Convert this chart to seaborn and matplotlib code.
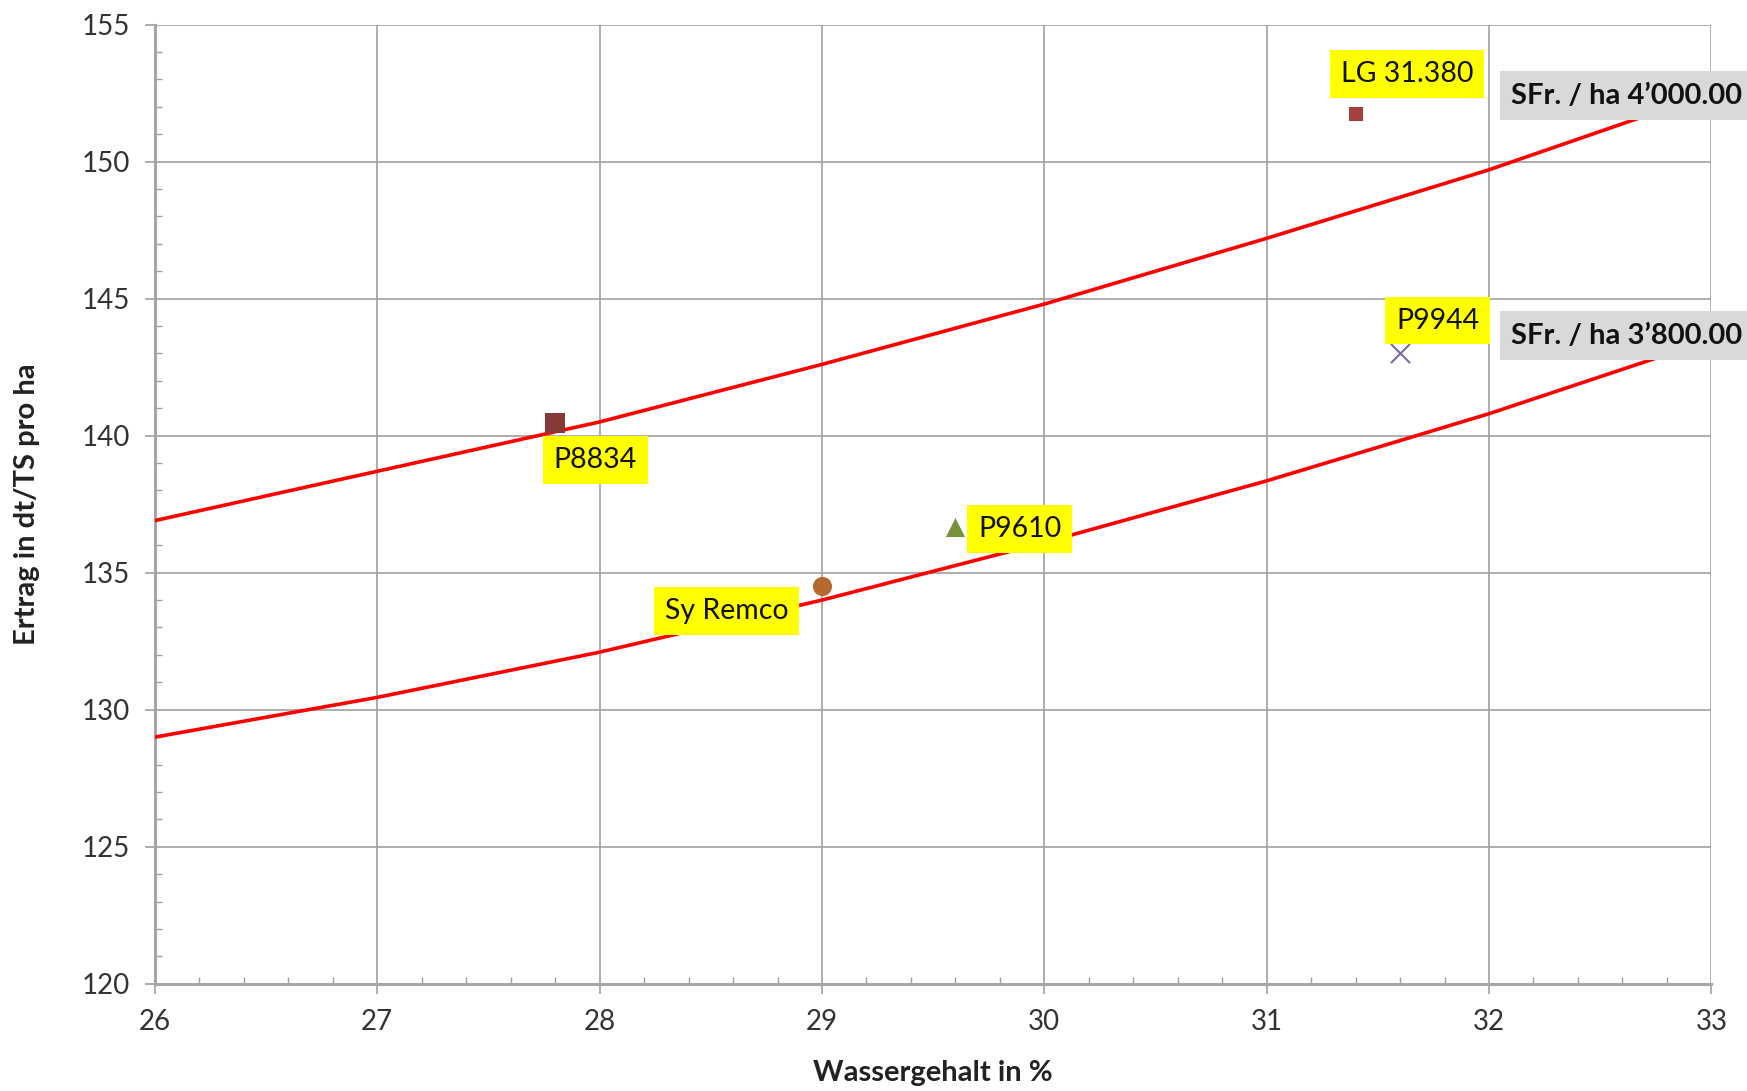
import numpy as np
import pandas as pd
import matplotlib
matplotlib.use("Agg")
import matplotlib.pyplot as plt
from matplotlib.ticker import MultipleLocator
import seaborn as sns

# ── Data ───────────────────────────────────────────────────
curve_x = [26, 27, 28, 29, 30, 31, 32, 33]
curve_4000 = [136.9, 138.7, 140.5, 142.6, 144.8, 147.2, 149.7, 152.5]
curve_3800 = [129.0, 130.45, 132.1, 134.0, 136.1, 138.35, 140.8, 143.5]
curve_names = ["SFr. / ha 4\u2019000.00", "SFr. / ha 3\u2019800.00"]

sorten = ["LG 31.380", "P8834", "P9610", "Sy Remco", "P9944"]
wasser = [31.4, 27.8, 29.6, 29.0, 31.6]
ertrag = [151.75, 140.45, 136.65, 134.5, 143.0]

# label anchors (data coords) for the yellow boxes
label_x = [31.63, 27.98, 29.89, 28.57, 31.77]
label_y = [153.2, 139.1, 136.6, 133.6, 144.2]

# gray curve labels
curve_label_x = [32.10, 32.10]
curve_label_y = [152.4, 143.65]

# ── Styles ─────────────────────────────────────────────────
markers = {"LG 31.380": "s", "P8834": "s", "P9610": "^", "Sy Remco": "o", "P9944": "x"}
colors = {"LG 31.380": "#A5403F", "P8834": "#863A38", "P9610": "#76923C",
          "Sy Remco": "#B5692E", "P9944": "#7B6A9E"}
sizes = {"LG 31.380": 90, "P8834": 210, "P9610": 190, "Sy Remco": 190, "P9944": 190}

sns.set_style("white")
plt.rcParams["font.family"] = ["Lato", "DejaVu Sans"]

fig = plt.figure(figsize=(17.47, 10.91), dpi=100)
ax = fig.add_axes([0.0887, 0.0983, 0.8909, 0.8792])

curves = pd.DataFrame({"x": curve_x, "y4000": curve_4000, "y3800": curve_3800})
sns.lineplot(data=curves, x="x", y="y4000", color="#FF0000", linewidth=2.6, ax=ax, zorder=3)
sns.lineplot(data=curves, x="x", y="y3800", color="#FF0000", linewidth=2.6, ax=ax, zorder=3)

pts = pd.DataFrame({"sorte": sorten, "x": wasser, "y": ertrag})
for s in sorten:
    sub = pts[pts["sorte"] == s]
    lw = 1.5 if markers[s] == "x" else 0
    sns.scatterplot(data=sub, x="x", y="y", marker=markers[s], color=colors[s],
                    s=sizes[s], linewidth=lw, ax=ax, zorder=4, legend=False)

for name, lx, ly in zip(sorten, label_x, label_y):
    ax.text(lx, ly, name, ha="center", va="center", fontsize=20.5, color="#111111",
            zorder=5, bbox=dict(boxstyle="square,pad=0.38", facecolor="#FFFF00", edgecolor="none"))

for name, lx, ly in zip(curve_names, curve_label_x, curve_label_y):
    ax.text(lx, ly, name, ha="left", va="center", fontsize=21, fontweight="bold",
            color="#111111", zorder=6, clip_on=False,
            bbox=dict(boxstyle="square,pad=0.4", facecolor="#D9D9D9", edgecolor="none"))

# ── Axes ───────────────────────────────────────────────────
ax.set_xlim(26, 33)
ax.set_ylim(120, 155)
ax.xaxis.set_major_locator(MultipleLocator(1))
ax.xaxis.set_minor_locator(MultipleLocator(0.2))
ax.yaxis.set_major_locator(MultipleLocator(5))
ax.yaxis.set_minor_locator(MultipleLocator(1))

ax.grid(which="major", color="#A0A0A0", linewidth=1.2)
ax.set_axisbelow(True)
for side in ["top", "right"]:
    ax.spines[side].set_visible(False)
for side in ["left", "bottom"]:
    ax.spines[side].set_color("#A6A6A6")
    ax.spines[side].set_linewidth(2.2)

ax.tick_params(which="major", direction="out", length=7, width=1.2, color="#A0A0A0",
               labelsize=20, labelcolor="#333333", pad=11)
ax.tick_params(which="minor", direction="in", length=5, width=1.0, color="#A0A0A0")
ax.tick_params(axis="x", which="both", bottom=True)
ax.tick_params(axis="y", which="both", left=True)

ax.set_xlabel("Wassergehalt in %", fontsize=21, fontweight="bold", color="#222222")
ax.set_ylabel("Ertrag in dt/TS pro ha", fontsize=21, fontweight="bold", color="#222222")
ax.xaxis.set_label_coords(0.5, -0.093)
ax.xaxis.label.set_va("center")
ax.yaxis.set_label_coords(-0.082, 0.5)
ax.yaxis.label.set_va("center")

fig.savefig("out.png", dpi=100)
